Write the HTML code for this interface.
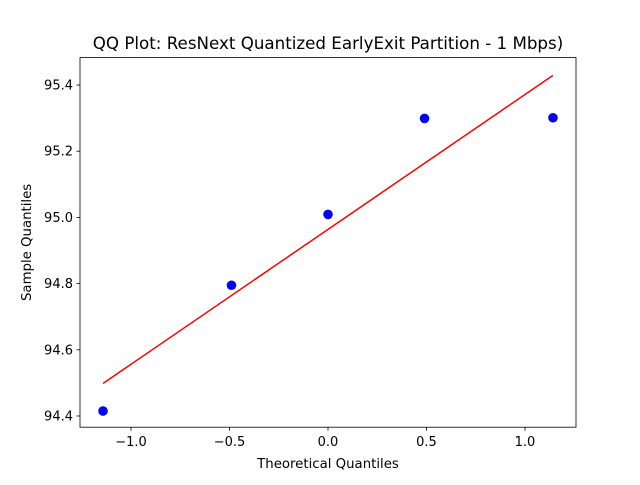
<!DOCTYPE html>
<html><head><meta charset="utf-8"><style>
body{margin:0;background:#fff;}
svg{font-family:"DejaVu Sans","Liberation Sans",sans-serif;}
</style></head><body>
<svg id="chart" width="640" height="480" xmlns="http://www.w3.org/2000/svg">
<rect width="640" height="480" fill="#fff"/>
<text x="328" y="49" font-size="16.7" text-anchor="middle">QQ Plot: ResNext Quantized EarlyExit Partition - 1 Mbps)</text>
<g id="marks"></g>
<rect x="80" y="57.6" width="496" height="369.6" fill="none" stroke="#000" stroke-width="0.8"/>
<g id="axes"></g>
<text x="328" y="468" font-size="13.3" text-anchor="middle">Theoretical Quantiles</text>
<text transform="translate(31,242.4) rotate(-90)" font-size="13.3" text-anchor="middle">Sample Quantiles</text>
</svg>
<script>
const theoretical = [-1.142, -0.49, 0, 0.49, 1.142];
const sample = [94.415, 94.795, 95.009, 95.299, 95.301];
const xTicks = [-1.0, -0.5, 0.0, 0.5, 1.0];
const xTickLabels = ["−1.0", "−0.5", "0.0", "0.5", "1.0"];
const yTicks = [94.4, 94.6, 94.8, 95.0, 95.2, 95.4];
const yTickLabels = ["94.4", "94.6", "94.8", "95.0", "95.2", "95.4"];

const X = v => 328 + v * 197;
const Y = v => 416 - (v - 94.4) * 331;
const NS = "http://www.w3.org/2000/svg";
const marks = document.getElementById('marks');
const axes = document.getElementById('axes');
function mk(tag, attrs, parent){const e=document.createElementNS(NS,tag);for(const k in attrs)e.setAttribute(k,attrs[k]);parent.appendChild(e);return e;}

xTicks.forEach((t,i)=>{
  const l=mk('line',{x1:X(t),x2:X(t),y1:427.2,y2:430.7,stroke:'#000','stroke-width':0.8},axes);
  
  
  const tx=mk('text',{x:X(t),y:446,'font-size':13,'text-anchor':'middle'},axes);
  tx.textContent=xTickLabels[i];
  
  
});
yTicks.forEach((t,i)=>{
  const l=mk('line',{x1:76.5,x2:80,y1:Y(t),y2:Y(t),stroke:'#000','stroke-width':0.8},axes);
  
  
  const tx=mk('text',{x:73,y:Y(t)+4.5,'font-size':13,'text-anchor':'end'},axes);
  tx.textContent=yTickLabels[i];
  
  
});

const n=theoretical.length;
const mx=theoretical.reduce((a,b)=>a+b,0)/n, my=sample.reduce((a,b)=>a+b,0)/n;
let sxy=0,sxx=0;
for(let i=0;i<n;i++){sxy+=(theoretical[i]-mx)*(sample[i]-my);sxx+=(theoretical[i]-mx)**2;}
const slope=sxy/sxx, icpt=my-slope*mx;
const xmin=Math.min(...theoretical), xmax=Math.max(...theoretical);
const line=mk('line',{x1:X(xmin),y1:Y(icpt+slope*xmin),x2:X(xmax),y2:Y(icpt+slope*xmax),stroke:'#ff0000','stroke-width':1.5},marks);



theoretical.forEach((t,i)=>{
  const c=mk('circle',{cx:X(t),cy:Y(sample[i]),r:4.8,fill:'#0000ff'},marks);
  
  
});
</script>
</body></html>
